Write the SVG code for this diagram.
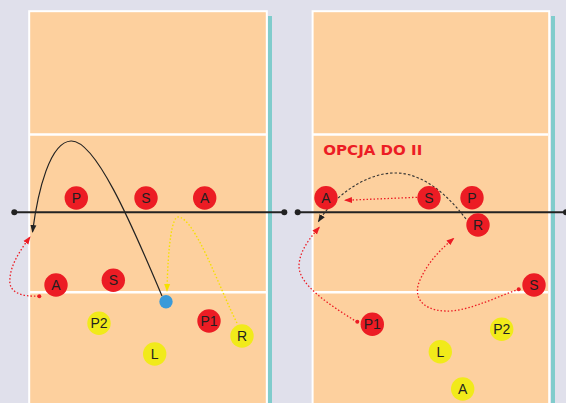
<svg xmlns="http://www.w3.org/2000/svg" width="566" height="403" viewBox="0 0 566 403">
<style>
.court{fill:#fdd09e;stroke:#ffffff;stroke-width:2}
.wline{stroke:#ffffff;stroke-width:2.5}
.teal{fill:#80cccc}
.net{stroke:#222;stroke-width:2}
.red{fill:#ec1c24}
.yel{fill:#f1ea1a}
.lbl{font-family:"Liberation Sans",Arial,sans-serif;font-size:14px;fill:#231f20;text-anchor:middle}
.rdot{fill:none;stroke:#ec1c24;stroke-width:1.3;stroke-dasharray:1.5 2}
.ydot{fill:none;stroke:#f5e000;stroke-width:1.4;stroke-dasharray:1.5 2}
.bsol{fill:none;stroke:#222;stroke-width:1.2}
.bdash{fill:none;stroke:#333;stroke-width:1.1;stroke-dasharray:2.5 2}
</style>
<defs>
<marker id="ab" markerWidth="8" markerHeight="8" refX="7" refY="4" orient="auto" markerUnits="userSpaceOnUse"><path d="M0,1 L8,4 L0,7 Z" fill="#222"/></marker>
<marker id="ar" markerWidth="8" markerHeight="8" refX="7" refY="4" orient="auto" markerUnits="userSpaceOnUse"><path d="M0,1 L8,4 L0,7 Z" fill="#ec1c24"/></marker>
<marker id="ay" markerWidth="8" markerHeight="8" refX="7" refY="4" orient="auto" markerUnits="userSpaceOnUse"><path d="M0,1 L8,4 L0,7 Z" fill="#f5e000"/></marker>
</defs>
<rect x="0" y="0" width="566" height="403" fill="#e0e0eb"/>
<g id="court-left">
<rect class="teal" x="268" y="16" width="4" height="390"/>
<rect class="court" x="29.2" y="11.2" width="237.6" height="400"/>
<line class="wline" x1="30" y1="134.5" x2="266" y2="134.5"/>
<line class="wline" x1="30" y1="292.3" x2="266" y2="292.3"/>
</g>
<g id="court-right">
<rect class="teal" x="551" y="16" width="4" height="390"/>
<rect class="court" x="312.6" y="11.2" width="236.6" height="400"/>
<line class="wline" x1="313" y1="134.5" x2="548" y2="134.5"/>
<line class="wline" x1="313" y1="292.3" x2="548" y2="292.3"/>
</g>
<g id="net-left">
<line class="net" x1="14.3" y1="212.3" x2="284.3" y2="212.3"/>
<circle cx="14.3" cy="212.3" r="3" fill="#222"/>
<circle cx="284.3" cy="212.3" r="3" fill="#222"/>
</g>
<g id="net-right">
<line class="net" x1="297.7" y1="212.3" x2="566" y2="212.3"/>
<circle cx="297.7" cy="212.3" r="3" fill="#222"/>
<circle cx="566" cy="212.3" r="3" fill="#222"/>
</g>
<text id="title" x="323.3" y="155" font-family="'DejaVu Sans',Arial,sans-serif" font-weight="bold" font-size="13.5" fill="#ec1c24" textLength="99" lengthAdjust="spacingAndGlyphs">OPCJA DO II</text>
<g id="connectors">
<path class="bsol" d="M162,296 C130,220 95,140 71,141 C50,142 38,190 32.5,232" marker-end="url(#ab)"/>
<path class="rdot" d="M39,296 C20,297 8,292 10,278 C11,263 22,248 30,237" marker-end="url(#ar)"/>
<circle cx="39.3" cy="296.3" r="2" fill="#ec1c24"/>
<path class="ydot" d="M237,323 C220,290 195,217 178,217 C172,217 168,245 167,291" marker-end="url(#ay)"/>
<path class="bdash" d="M466,219 C440,185 415,172 393,173 C365,174 335,195 318.5,221.5" marker-end="url(#ab)"/>
<path class="rdot" d="M417,197.3 L345,200.3" marker-end="url(#ar)"/>
<path class="rdot" d="M357,322 C330,305 298,285 299,265 C300,250 310,238 319.3,227.3" marker-end="url(#ar)"/>
<circle cx="357.3" cy="321.7" r="2" fill="#ec1c24"/>
<path class="rdot" d="M519,289 C490,300 465,312 445,311 C420,310 413,295 420,280 C428,262 440,250 453.7,238.3" marker-end="url(#ar)"/>
<circle cx="518.7" cy="289.3" r="2" fill="#ec1c24"/>
</g>
<g id="ball"><circle cx="166" cy="301.7" r="6.7" fill="#3a9ad9"/></g>
<g id="L-P"><circle class="red" cx="76.3" cy="198" r="11.7"/><text class="lbl" x="76.3" y="203">P</text></g>
<g id="L-S1"><circle class="red" cx="146" cy="198" r="11.7"/><text class="lbl" x="146" y="203">S</text></g>
<g id="L-A1"><circle class="red" cx="204.7" cy="198" r="11.7"/><text class="lbl" x="204.7" y="203">A</text></g>
<g id="L-A2"><circle class="red" cx="56" cy="285" r="11.7"/><text class="lbl" x="56" y="290">A</text></g>
<g id="L-S2"><circle class="red" cx="113.3" cy="280.3" r="11.7"/><text class="lbl" x="113.3" y="285.3">S</text></g>
<g id="L-P2"><circle class="yel" cx="99" cy="323.3" r="11.7"/><text class="lbl" x="99" y="328.3">P2</text></g>
<g id="L-P1"><circle class="red" cx="209" cy="321" r="11.7"/><text class="lbl" x="209" y="326">P1</text></g>
<g id="L-R"><circle class="yel" cx="242" cy="336" r="11.7"/><text class="lbl" x="242" y="341">R</text></g>
<g id="L-L"><circle class="yel" cx="154.7" cy="354" r="11.7"/><text class="lbl" x="154.7" y="359">L</text></g>
<g id="R-A1"><circle class="red" cx="326" cy="197.7" r="11.7"/><text class="lbl" x="326" y="202.7">A</text></g>
<g id="R-S1"><circle class="red" cx="429" cy="197.7" r="11.7"/><text class="lbl" x="429" y="202.7">S</text></g>
<g id="R-P"><circle class="red" cx="472" cy="197.7" r="11.7"/><text class="lbl" x="472" y="202.7">P</text></g>
<g id="R-R"><circle class="red" cx="478" cy="225" r="11.7"/><text class="lbl" x="478" y="230">R</text></g>
<g id="R-S2"><circle class="red" cx="534" cy="285" r="11.7"/><text class="lbl" x="534" y="290">S</text></g>
<g id="R-P1"><circle class="red" cx="372.3" cy="324.3" r="11.7"/><text class="lbl" x="372.3" y="329.3">P1</text></g>
<g id="R-P2"><circle class="yel" cx="501.7" cy="329.3" r="11.7"/><text class="lbl" x="501.7" y="334.3">P2</text></g>
<g id="R-L"><circle class="yel" cx="440.3" cy="351.7" r="11.7"/><text class="lbl" x="440.3" y="356.7">L</text></g>
<g id="R-A2"><circle class="yel" cx="462.7" cy="389" r="11.7"/><text class="lbl" x="462.7" y="394">A</text></g>
</svg>
